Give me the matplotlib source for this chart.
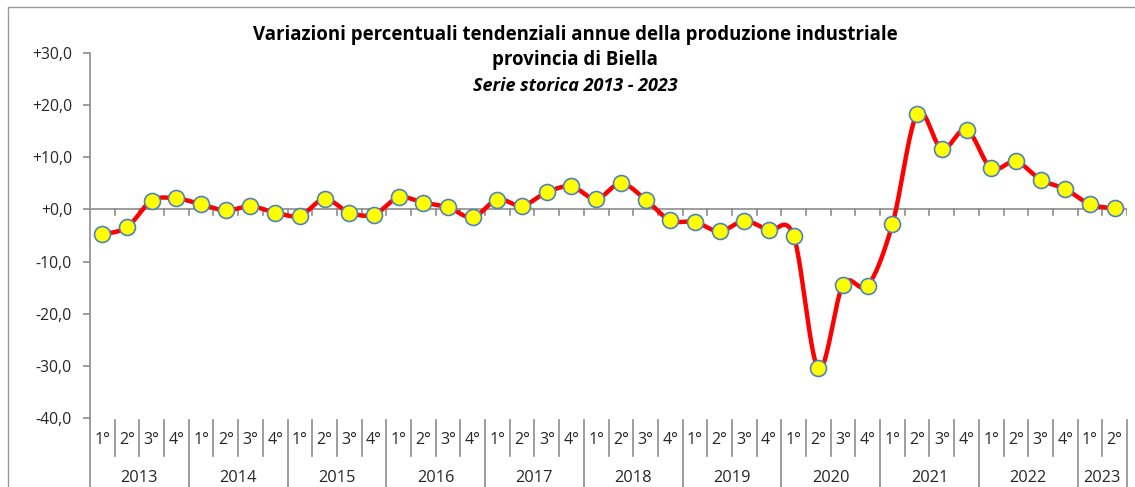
import numpy as np
import matplotlib
matplotlib.use("Agg")
import matplotlib.pyplot as plt
from matplotlib.lines import Line2D
from matplotlib.patches import Rectangle
import matplotlib.transforms as mtransforms

plt.rcParams['font.family'] = ['Open Sans', 'DejaVu Sans']

# ---- data ----
years = ['2013', '2014', '2015', '2016', '2017', '2018', '2019', '2020', '2021', '2022', '2023']
quarters_per_year = [4, 4, 4, 4, 4, 4, 4, 4, 4, 4, 2]
quarter_labels = ['1°', '2°', '3°', '4°']
values = [
    -4.8, -3.4, 1.7, 2.1,      # 2013
    1.0, -0.2, 0.6, -0.6,      # 2014
    -1.2, 2.0, -0.6, -1.0,     # 2015
    2.3, 1.3, 0.4, -1.5,       # 2016
    1.9, 0.7, 3.3, 4.4,        # 2017
    2.0, 5.0, 1.9, -2.1,       # 2018
    -2.4, -4.2, -2.2, -4.0,    # 2019
    -5.1, -30.5, -14.4, -14.6, # 2020
    -2.8, 18.3, 11.6, 15.3,    # 2021
    7.9, 9.2, 5.7, 3.9,        # 2022
    1.0, 0.2,                  # 2023
]
yticks = [-40, -30, -20, -10, 0, 10, 20, 30]
title_lines = ["Variazioni percentuali tendenziali annue della produzione industriale",
               "provincia di Biella"]
subtitle = "Serie storica 2013 - 2023"

W, H = 1135, 487
fig = plt.figure(figsize=(W / 100, H / 100), dpi=100)

ax_l, ax_r, ax_top, ax_bot = 90, 1127, 53, 418
ax = fig.add_axes([ax_l / W, 1 - ax_bot / H, (ax_r - ax_l) / W, (ax_bot - ax_top) / H])

n = len(values)
x = np.arange(n) + 0.5
y = np.array(values, dtype=float)

# smooth curve (Catmull-Rom through the data points, like Excel's smoothed line)
def smooth(xp, yp, steps=24):
    P = np.column_stack([xp, yp])
    out = []
    for i in range(len(P) - 1):
        p0 = P[i - 1] if i > 0 else P[i]
        p1 = P[i]
        p2 = P[i + 1]
        p3 = P[i + 2] if i + 2 < len(P) else P[i + 1]
        c1 = p1 + (p2 - p0) / 6.0
        c2 = p2 - (p3 - p1) / 6.0
        t = np.linspace(0, 1, steps, endpoint=(i == len(P) - 2))[:, None]
        b = ((1 - t) ** 3) * p1 + 3 * ((1 - t) ** 2) * t * c1 + 3 * (1 - t) * t ** 2 * c2 + t ** 3 * p2
        out.append(b)
    out = np.vstack(out)
    return out[:, 0], out[:, 1]

sx, sy = smooth(x, y)
ax.plot(sx, sy, color='#FF0000', lw=3.2, solid_capstyle='round', zorder=3)
ax.plot(x, y, linestyle='none', marker='o', markersize=11.5, markerfacecolor='#FFFF00',
        markeredgecolor='#4F81BD', markeredgewidth=1.2, zorder=4)

ax.set_xlim(0, n)
ax.set_ylim(-40, 30)
axis_col = '#8C8C8C'
txt_col = '#262626'
for s in ['top', 'right', 'bottom']:
    ax.spines[s].set_visible(False)
ax.spines['left'].set_color(axis_col)
ax.spines['left'].set_linewidth(1.2)
ax.set_yticks(yticks)
ax.set_yticklabels([('+' if v >= 0 else '') + f"{v:.1f}".replace('.', ',') for v in yticks])
ax.tick_params(axis='y', direction='out', length=5, width=1.2, color=axis_col,
               labelsize=11.3, labelcolor=txt_col, pad=8)
ax.set_xticks([])

# zero line with category tick marks
ax.axhline(0, color=axis_col, lw=1.2, zorder=2)
for k in range(1, n + 1):
    ax.add_line(Line2D([k, k], [0, -1.0], color=axis_col, lw=1.2, zorder=2))

# category labels below the plot
tb = mtransforms.blended_transform_factory(ax.transData, fig.transFigure)
def fy(px):
    return 1 - px / H

sep_top = 420
idx = 0
for yi, (yr, nq) in enumerate(zip(years, quarters_per_year)):
    start = idx
    for q in range(nq):
        ax.text(idx + 0.5, fy(440), quarter_labels[q], transform=tb, ha='center', va='center',
                fontsize=11.5, color=txt_col, clip_on=False)
        if q > 0:
            ax.add_line(Line2D([idx, idx], [fy(sep_top), fy(456)], transform=tb, color=axis_col,
                               lw=1.2, clip_on=False))
        idx += 1
    ax.text((start + idx) / 2, fy(478), yr, transform=tb, ha='center', va='center',
            fontsize=11.8, color=txt_col, clip_on=False)
    ax.add_line(Line2D([idx, idx], [fy(sep_top), 0], transform=tb, color=axis_col,
                       lw=1.2, clip_on=False))

# extend y axis down to the bottom
fig.add_artist(Line2D([ax_l / W, ax_l / W], [0, fy(ax_bot)], color=axis_col, lw=1.2))

# outer border
fig.add_artist(Rectangle((8 / W, -0.05), 1.2, 1 - 7 / H + 0.05, fill=False,
                         edgecolor='#9A9A9A', lw=1.0, transform=fig.transFigure))

# titles
cx = 575 / W
fig.text(cx, fy(35), title_lines[0], ha='center', va='center', fontsize=13.4,
         fontweight='bold', color='#000000')
fig.text(cx, fy(60), title_lines[1], ha='center', va='center', fontsize=13.4,
         fontweight='bold', color='#000000')
fig.text(cx, fy(86), subtitle, ha='center', va='center', fontsize=13.0,
         fontweight='bold', fontstyle='italic', color='#000000')

fig.savefig('out.png', dpi=100)
